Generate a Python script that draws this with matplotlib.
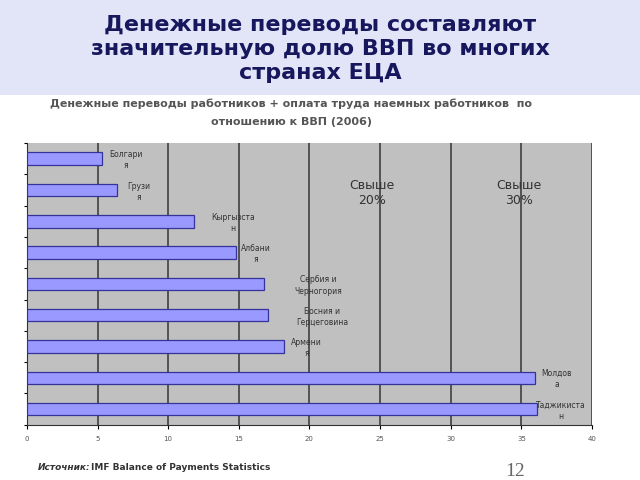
import matplotlib
matplotlib.use("Agg")
import matplotlib.pyplot as plt
from matplotlib.patches import Rectangle

# data (% of GDP, 2006)
countries = ["Болгари\nя", "Грузи\nя", "Кыргызста\nн", "Албани\nя",
             "Сербия и\nЧерногория", "Босния и\nГерцеговина", "Армени\nя",
             "Молдов\nа", "Таджикиста\nн"]
values = [5.3, 6.4, 11.8, 14.8, 16.8, 17.1, 18.2, 36.0, 36.1]
xticks = [0, 5, 10, 15, 20, 25, 30, 35, 40]

# label offsets to the right of bar ends (x units)
label_dx = [1.7, 1.5, 2.8, 1.4, 3.8, 3.8, 1.6, 1.5, 1.7]

fig = plt.figure(figsize=(6.4, 4.8), dpi=100)
fig.patch.set_facecolor("white")

# title band
fig.patches.append(Rectangle((0, 0.802), 1, 0.198, transform=fig.transFigure,
                             facecolor="#e2e4f7", edgecolor="none", zorder=0))
fig.text(0.5, 0.898, "Денежные переводы составляют\nзначительную долю ВВП во многих\nстранах ЕЦА",
         ha="center", va="center", fontsize=16, fontweight="bold",
         color="#17175e", linespacing=1.27)

fig.text(0.455, 0.783, "Денежные переводы работников + оплата труда наемных работников  по",
         ha="center", va="center", fontsize=8, fontweight="bold", color="#555555")
fig.text(0.455, 0.745, "отношению к ВВП (2006)",
         ha="center", va="center", fontsize=8, fontweight="bold", color="#555555")

ax = fig.add_axes([0.042, 0.115, 0.883, 0.587])
ax.set_facecolor("#c0c0c0")
y = list(range(len(values)))
ax.barh(y, values, height=0.4, color="#9999ff", edgecolor="#333399", linewidth=0.9, zorder=3)
ax.set_xlim(0, 40)
ax.set_ylim(len(values) - 0.5, -0.5)
ax.set_xticks(xticks)
ax.set_xticklabels([str(t) for t in xticks], fontsize=5, color="#555555")
ax.set_yticks([i + 0.5 for i in range(-1, len(values))])
ax.set_yticklabels([])
ax.tick_params(axis="y", length=2, width=0.8, direction="out")
ax.tick_params(axis="x", length=3, width=0.8, direction="out", pad=5)
ax.grid(axis="x", color="#404040", linewidth=1.2, zorder=1)
for s in ["top", "right"]:
    ax.spines[s].set_visible(False)
ax.spines["left"].set_color("#333333")
ax.spines["bottom"].set_color("#333333")

for i, (v, lab) in enumerate(zip(values, countries)):
    ax.text(v + label_dx[i], i + 0.05, lab, ha="center", va="center", fontsize=5.5,
            color="#333333", linespacing=1.3, zorder=4)

ax.text(24.4, 1.1, "Свыше\n20%", ha="center", va="center", fontsize=9, color="#333333", zorder=4)
ax.text(34.8, 1.1, "Свыше\n30%", ha="center", va="center", fontsize=9, color="#333333", zorder=4)

fig.text(0.059, 0.026, "Источник:", ha="left", va="center", fontsize=6.5,
         fontweight="bold", style="italic", color="#333333")
fig.text(0.142, 0.026, "IMF Balance of Payments Statistics", ha="left", va="center",
         fontsize=6.5, fontweight="bold", color="#333333")
fig.text(0.805, 0.018, "12", ha="center", va="center", fontsize=14,
         family="Liberation Serif", color="#666666")

fig.savefig("out.png", dpi=100)
